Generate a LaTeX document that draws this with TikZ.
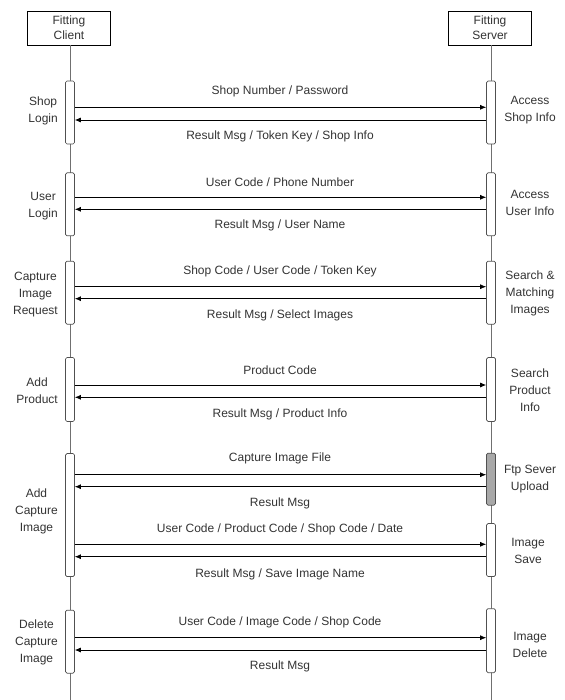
\documentclass[tikz,border=0pt]{standalone}
\usepackage{fontspec}
\setmainfont{Liberation Sans}
\usetikzlibrary{arrows.meta}
\definecolor{txt}{HTML}{333333}
\definecolor{lifec}{HTML}{707070}
\definecolor{barc}{HTML}{505050}
\definecolor{barg}{HTML}{A8A8A8}
\begin{document}
\begin{tikzpicture}[x=1pt,y=-1pt,
  every node/.style={font=\fontsize{12}{17}\selectfont, text=txt, inner sep=0pt},
  head/.style={draw=black, line width=0.7pt, fill=white, minimum width=83pt, minimum height=34pt, align=center, font=\fontsize{12}{15}\selectfont},
  lifeline/.style={draw=lifec, line width=0.8pt},
  actbar/.style={draw=barc, line width=0.7pt, fill=white, rounded corners=1.5pt, minimum width=9pt},
  greybar/.style={actbar, fill=barg},
  msg/.style={draw=black, line width=0.7pt, -{Latex[length=6pt,width=5pt]}},
  lbl/.style={align=center},
  llbl/.style={align=center, anchor=east},
]
\useasboundingbox (0,0) rectangle (564,700);
% headers
\node[head] (client) at (69,28) {Fitting\\Client};
\node[head] (server) at (490,28) {Fitting\\Server};
\coordinate (cend) at (70,700);
\coordinate (send) at (491,700);
\draw[lifeline] (client.south -| cend) -- (cend);
\draw[lifeline] (server.south -| send) -- (send);
% activation bars
\node[actbar, minimum height=63pt] (c1) at (70,112.5) {};
\node[actbar, minimum height=63pt] (s1) at (491,112.5) {};
\node[actbar, minimum height=63pt] (c2) at (70,204.3) {};
\node[actbar, minimum height=63pt] (s2) at (491,204.3) {};
\node[actbar, minimum height=63pt] (c3) at (70,292.7) {};
\node[actbar, minimum height=63pt] (s3) at (491,292.7) {};
\node[actbar, minimum height=64pt] (c4) at (70,389.5) {};
\node[actbar, minimum height=64pt] (s4) at (491,389.5) {};
\node[actbar, minimum height=123pt] (c5) at (70,515) {};
\node[greybar, minimum height=52pt] (s5) at (491,479.2) {};
\node[actbar, minimum height=53pt] (s6) at (491,550) {};
\node[actbar, minimum height=63pt] (c7) at (70,641.7) {};
\node[actbar, minimum height=64pt] (s7) at (491,640.7) {};
% messages
\draw[msg] (c1.east |- 0,107.3) -- (s1.west |- 0,107.3);
\draw[msg] (s1.west |- 0,120) -- (c1.east |- 0,120);
\draw[msg] (c2.east |- 0,197.3) -- (s2.west |- 0,197.3);
\draw[msg] (s2.west |- 0,209.3) -- (c2.east |- 0,209.3);
\draw[msg] (c3.east |- 0,286.7) -- (s3.west |- 0,286.7);
\draw[msg] (s3.west |- 0,298.7) -- (c3.east |- 0,298.7);
\draw[msg] (c4.east |- 0,385) -- (s4.west |- 0,385);
\draw[msg] (s4.west |- 0,397.3) -- (c4.east |- 0,397.3);
\draw[msg] (c5.east |- 0,474.7) -- (s5.west |- 0,474.7);
\draw[msg] (s5.west |- 0,486.7) -- (c5.east |- 0,486.7);
\draw[msg] (c5.east |- 0,544.3) -- (s6.west |- 0,544.3);
\draw[msg] (s6.west |- 0,556.7) -- (c5.east |- 0,556.7);
\draw[msg] (c7.east |- 0,637.7) -- (s7.west |- 0,637.7);
\draw[msg] (s7.west |- 0,650) -- (c7.east |- 0,650);
% message labels
\node[lbl] (m1a) at (280,91.7) {Shop Number / Password};
\node[lbl] (m1b) at (280,136.7) {Result Msg / Token Key / Shop Info};
\node[lbl] (m2a) at (280,182.7) {User Code / Phone Number};
\node[lbl] (m2b) at (280,225) {Result Msg / User Name};
\node[lbl] (m3a) at (280,271) {Shop Code / User Code / Token Key};
\node[lbl] (m3b) at (280,315.7) {Result Msg / Select Images};
\node[lbl] (m4a) at (280,370.7) {Product Code};
\node[lbl] (m4b) at (280,414) {Result Msg / Product Info};
\node[lbl] (m5a) at (280,458.7) {Capture Image File};
\node[lbl] (m5b) at (280,503.7) {Result Msg};
\node[lbl] (m6a) at (280,529.3) {User Code / Product Code / Shop Code / Date};
\node[lbl] (m6b) at (280,574) {Result Msg / Save Image Name};
\node[lbl] (m7a) at (280,622) {User Code / Image Code / Shop Code};
\node[lbl] (m7b) at (280,666.7) {Result Msg};
% client side labels
\node[llbl] (l1) at (58,111) {Shop\\Login};
\node[llbl] (l2) at (58,205.7) {User\\Login};
\node[llbl] (l3) at (58,294.3) {Capture\\Image\\Request};
\node[llbl] (l4) at (58,390.7) {Add\\Product};
\node[llbl] (l5) at (58,511.7) {Add\\Capture\\Image};
\node[llbl] (l7) at (58,642.7) {Delete\\Capture\\Image};
% server side labels
\node[lbl] (r1) at (530,110.5) {Access\\Shop Info};
\node[lbl] (r2) at (530,203.3) {Access\\User Info};
\node[lbl] (r3) at (530,293.3) {Search \&\\Matching\\Images};
\node[lbl] (r4) at (530,390) {Search\\Product\\Info};
\node[lbl] (r5) at (530,478.7) {Ftp Sever\\Upload};
\node[lbl] (r6) at (528,551) {Image\\Save};
\node[lbl] (r7) at (530,645) {Image\\Delete};
\end{tikzpicture}
\end{document}
